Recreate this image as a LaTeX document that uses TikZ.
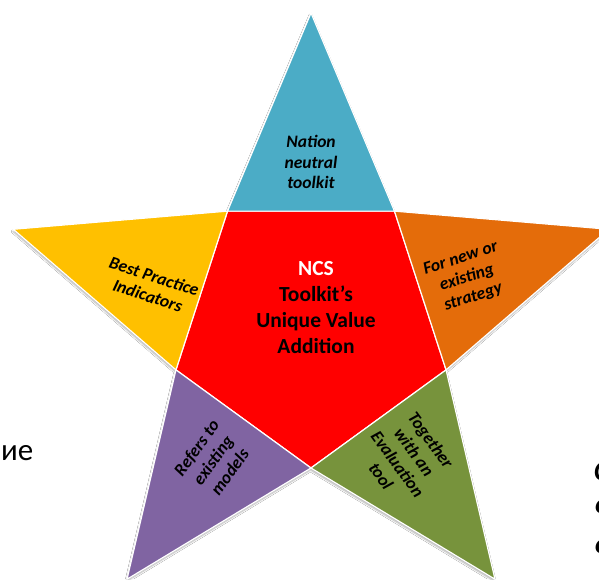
\documentclass[tikz,border=0pt]{standalone}
\usepackage{fontspec}
\setmainfont{Carlito}
\usetikzlibrary{calc,shadows.blur}
\definecolor{cblue}{HTML}{4BACC6}
\definecolor{cyellow}{HTML}{FFC000}
\definecolor{corange}{HTML}{E46C0A}
\definecolor{cred}{HTML}{FF0000}
\definecolor{cpurple}{HTML}{8064A2}
\definecolor{cgreen}{HTML}{77933C}
\tikzset{
  piece/.style={draw=white, line width=1.2pt, line join=round},
  pointtext/.style={font=\fontsize{17.5}{20.5}\selectfont\bfseries\itshape, align=center, text=black, inner sep=0pt},
  centertext/.style={font=\fontsize{21.5}{26}\selectfont\bfseries, align=center, text=black, inner sep=0pt},
  sidetext/.style={font=\fontsize{31}{38}\selectfont, text=black, inner sep=0pt},
  fragtext/.style={font=\fontsize{28}{34}\selectfont\bfseries\itshape, text=black, inner sep=0pt}
}
\begin{document}
\begin{tikzpicture}[x=1pt,y=1pt]
\clip (0,0) rectangle (599,579);
\fill[white] (0,0) rectangle (599,579);
\coordinate (C) at (311,253);
\foreach \a in {90,162,234,306,18} {\coordinate (O\a) at ($(C)+(\a:313)$);}
\foreach \a in {54,126,198,270,342} {\coordinate (I\a) at ($(C)+(\a:142)$);}
% shadow of the whole star
\path[fill=white, blur shadow={shadow xshift=-0.5pt, shadow yshift=-2.2pt, shadow blur radius=1.6pt, shadow opacity=30}]
  (O90) -- (I54) -- (O18) -- (I342) -- (O306) -- (I270) -- (O234) -- (I198) -- (O162) -- (I126) -- cycle;
% pieces
\path[piece, fill=cred] (I54) -- (I126) -- (I198) -- (I270) -- (I342) -- cycle;
\path[piece, fill=cblue] (I126) -- (O90) -- (I54) -- cycle;
\path[piece, fill=corange] (I54) -- (O18) -- (I342) -- cycle;
\path[piece, fill=cgreen] (I342) -- (O306) -- (I270) -- cycle;
\path[piece, fill=cpurple] (I270) -- (O234) -- (I198) -- cycle;
\path[piece, fill=cyellow] (I198) -- (O162) -- (I126) -- cycle;
% texts
\node[pointtext] (tnation) at (311,417) {Nation\\neutral\\toolkit};
\node[pointtext, rotate=-18] (tbest) at (151,293) {Best Practice\\Indicators};
\node[pointtext, rotate=18] (tnew) at (467,301) {For new or\\existing\\strategy};
\node[pointtext, rotate=54] (trefers) at (213,119) {Refers to\\existing\\models};
\node[pointtext, rotate=-54] (ttogether) at (406,121) {Together\\with an\\Evaluation\\tool};
\node[centertext] (tcenter) at (316,271) {\textcolor{white}{NCS}\\Toolkit’s\\Unique Value\\Addition};
\node[sidetext, anchor=base west] (tside) at (1,119) {ие};
\node[fragtext, anchor=base west] (f1) at (594,99) {C};
\node[fragtext, anchor=base west] (f2) at (595,66) {e};
\node[fragtext, anchor=base west] (f3) at (595,26) {o};
\end{tikzpicture}
\end{document}
